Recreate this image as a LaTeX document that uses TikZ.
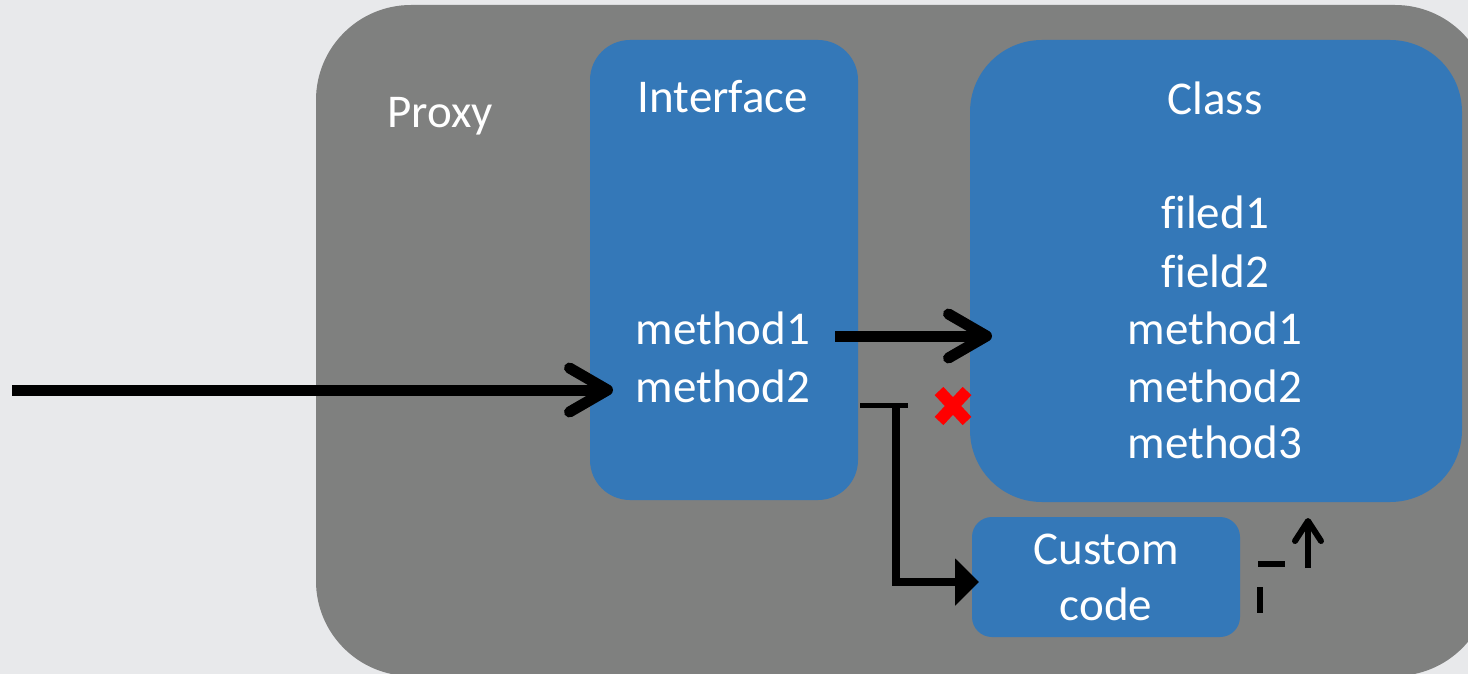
\documentclass[tikz,border=0pt]{standalone}
\usepackage{fontspec}
\setmainfont[Ligatures=NoCommon]{Carlito}
\usetikzlibrary{arrows.meta}
\definecolor{bgc}{HTML}{E8E9EB}
\definecolor{pgray}{HTML}{7F807F}
\definecolor{boxblue}{HTML}{3478B8}
\definecolor{xred}{HTML}{FF0000}
\begin{document}
\begin{tikzpicture}[x=1pt,y=-1pt,
  bluebox/.style={fill=boxblue, inner sep=0pt, outer sep=0pt},
  lbl/.style={text=white, font=\fontsize{47}{56}\selectfont, anchor=base, inner sep=0pt},
  barb/.style={line width=11pt, -{Straight Barb[length=38pt,width=44pt,round]}},
  thinmark/.style={line width=6pt}]
\useasboundingbox (0,0) rectangle (1468,674);
\clip (0,0) rectangle (1468,674);
\fill[bgc] (0,0) rectangle (1468,674);
% containers
\node[fill=pgray, rounded corners=95pt, minimum width=1174pt, minimum height=671pt, inner sep=0pt, outer sep=0pt] (proxy) at (903,340.5) {};
\node[bluebox, rounded corners=40pt, minimum width=268pt, minimum height=460pt] (iface) at (724,270) {};
\node[bluebox, rounded corners=72pt, minimum width=492pt, minimum height=462pt] (class) at (1216,271) {};
\node[bluebox, rounded corners=20pt, minimum width=268pt, minimum height=120pt] (custom) at (1106,577) {};
% labels
\node[lbl] (proxylbl) at (440,128) {Proxy};
\node[lbl] (ifacelbl) at (723,113) {Interface};
\node[lbl] (im1) at (723,344) {method1};
\node[lbl] (im2) at (723,402) {method2};
\node[lbl] (classlbl) at (1215,115) {Class};
\node[lbl] (cf1) at (1215,229) {filed1};
\node[lbl] (cf2) at (1215,287) {field2};
\node[lbl] (cm1) at (1215,344) {method1};
\node[lbl] (cm2) at (1215,402) {method2};
\node[lbl] (cm3) at (1215,458) {method3};
\node[lbl] (cc1) at (1106,564) {Custom};
\node[lbl] (cc2) at (1106,620) {code};
% connectors
\coordinate (src) at (12,390);
\coordinate (m1y) at (0,336);
\draw[barb, shorten >=-23pt] (src) -- (iface.west |- src);
\draw[barb, shorten <=-23pt, shorten >=-22pt] (iface.east |- m1y) -- (class.west |- m1y);
\coordinate (teeL) at (860,405);
\coordinate (teeR) at (908,405);
\coordinate (tee) at (896,403);
\draw[line width=5pt] (teeL) -- (teeR);
\draw[line width=8pt, -{Triangle[length=24pt,width=46pt]}, shorten >=-7pt] (tee) |- ([yshift=-5pt]custom.west);
% red cross
\begin{scope}[shift={(953,406)}]
  \draw[xred, line width=12pt] (-14,-15) -- (14,15);
  \draw[xred, line width=12pt] (-14,15) -- (14,-15);
\end{scope}
% small marks
\coordinate (dashL) at (1258,564);
\coordinate (dashR) at (1285,564);
\coordinate (barT) at (1260,587);
\coordinate (barB) at (1260,613);
\coordinate (upA) at (1308,568);
\coordinate (upB) at (1308,518);
\draw[thinmark] (dashL) -- (dashR);
\draw[thinmark] (barT) -- (barB);
\draw[thinmark, -{Straight Barb[length=20pt,width=26pt,round]}] (upA) -- (upB);
\end{tikzpicture}
\end{document}
